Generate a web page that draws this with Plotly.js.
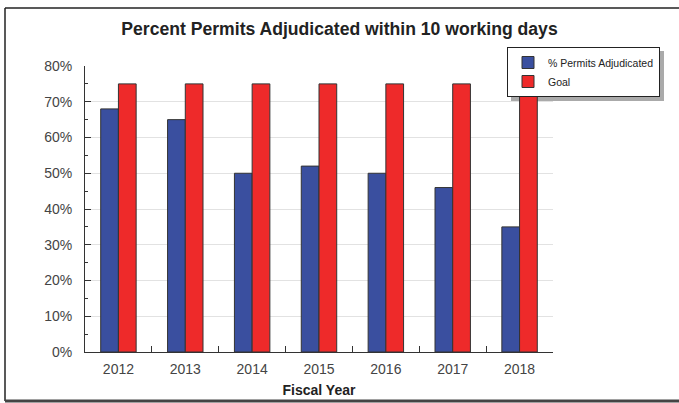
<!DOCTYPE html>
<html>
<head>
<meta charset="utf-8">
<script src="https://cdn.plot.ly/plotly-3.0.1.min.js"></script>
<style>
html,body{margin:0;padding:0;background:#fff;}
#chart{width:679px;height:403px;}
</style>
</head>
<body>
<div id="chart"></div>
<script>
const years = ["2012","2013","2014","2015","2016","2017","2018"];
const permitsPct = [0.68, 0.65, 0.50, 0.52, 0.50, 0.46, 0.35];
const goalPct = [0.75, 0.75, 0.75, 0.75, 0.75, 0.75, 0.75];
const yTickVals = [0, 0.1, 0.2, 0.3, 0.4, 0.5, 0.6, 0.7, 0.8];
const yTickText = ["0%","10%","20%","30%","40%","50%","60%","70%","80%"];

const L = 85, R = 553, T = 66, B = 352, W = 679, H = 403;
const px = x => (x - L) / (R - L);
const py = y => (B - y) / (B - T);

const traces = [
  {type:'bar', name:'% Permits Adjudicated', x:years, y:permitsPct,
   marker:{color:'#3a4f9f', line:{color:'#333', width:1}}},
  {type:'bar', name:'Goal', x:years, y:goalPct,
   marker:{color:'#ee2a2a', line:{color:'#333', width:1}}}
];

const layout = {
  width:W, height:H,
  margin:{l:L, r:W-R, t:T, b:H-B, pad:0},
  paper_bgcolor:'#fff', plot_bgcolor:'#fff',
  font:{family:'"Liberation Sans", Arial, sans-serif', color:'#333'},
  title:{text:'<b>Percent Permits Adjudicated within 10 working days</b>',
         font:{size:17.6, color:'#222'}, x:0.5, xanchor:'center', y:1-28.5/H, yanchor:'middle'},
  barmode:'group', bargap:0.47, bargroupgap:0,
  showlegend:true,
  legend:{x:px(507), y:py(47), xanchor:'left', yanchor:'top',
          bgcolor:'#fff', bordercolor:'#222', borderwidth:1,
          font:{size:10.5, color:'#222'}, tracegroupgap:0, itemwidth:30},
  xaxis:{type:'category', showline:true, linecolor:'#333', linewidth:1,
         ticks:'inside', tickson:'boundaries', ticklen:6, tickcolor:'#333',
         tickfont:{size:14, color:'#444'}, showgrid:false, ticklabelstandoff:4,
         title:{text:'<b>Fiscal Year</b>', font:{size:14, color:'#222'}, standoff:9}},
  yaxis:{range:[0,0.8], showline:true, linecolor:'#333', linewidth:1,
         tickvals:yTickVals, ticktext:yTickText, ticks:'inside', ticklen:6, tickcolor:'#333',
         tickfont:{size:14, color:'#444'}, showgrid:true, gridcolor:'#e2e2e2', gridwidth:1,
         zeroline:false, ticklabelstandoff:9,
         minor:{dtick:0.05, ticks:'inside', ticklen:3, tickcolor:'#333', showgrid:false}},
  shapes:[
    {type:'line', xref:'paper', yref:'paper', x0:px(5), x1:px(680), y0:py(8), y1:py(8),
     line:{color:'#222', width:1.5}},
    {type:'line', xref:'paper', yref:'paper', x0:px(5), x1:px(5), y0:py(8), y1:py(401),
     line:{color:'#222', width:1.5}},
    {type:'line', xref:'paper', yref:'paper', x0:px(5), x1:px(680), y0:py(401), y1:py(401),
     line:{color:'#444', width:3}}
  ]
};

Plotly.newPlot('chart', traces, layout, {displayModeBar:false, staticPlot:true}).then(gd => {
  const lg = gd._fullLayout.legend;
  const w = lg._width || 160, h = lg._height || 40;
  const x0 = 507, y0 = 47, off = 4;
  const shapes = gd.layout.shapes.slice();
  shapes.push({type:'rect', xref:'paper', yref:'paper', layer:'below',
    x0:px(x0 + off), x1:px(x0 + w + off), y0:py(y0 + off), y1:py(y0 + h + off),
    fillcolor:'#aaa', line:{width:0}});
  return Plotly.relayout(gd, {shapes: shapes});
});
</script>
</body>
</html>
